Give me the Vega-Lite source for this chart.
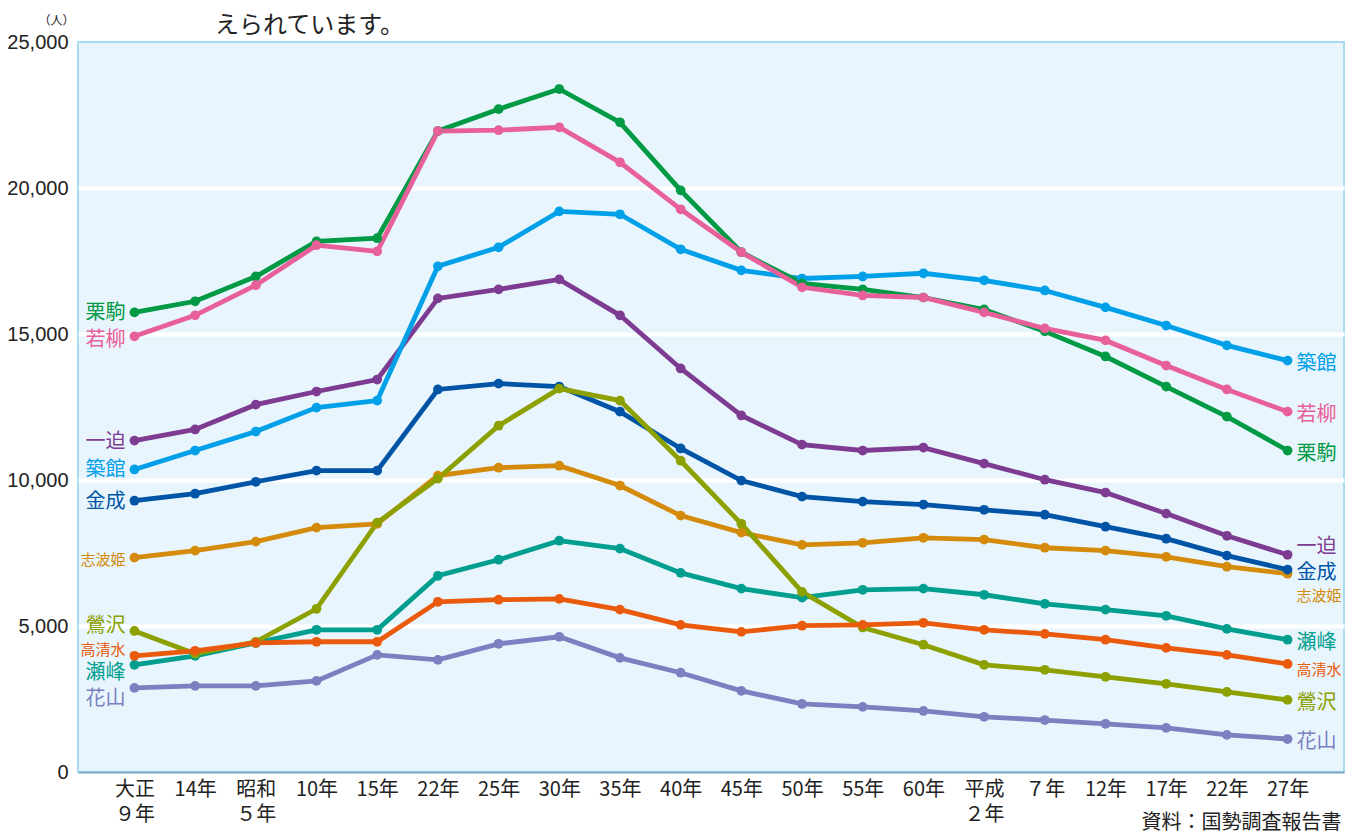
{
  "$schema": "https://vega.github.io/schema/vega-lite/v6.json",
  "width": 1266,
  "height": 730,
  "autosize": {"type": "none"},
  "padding": {"left": 78, "top": 42, "right": 1, "bottom": 65},
  "background": "white",
  "config": {
    "view": {"fill": "#E8F5FD", "stroke": "#A6DBF3", "strokeWidth": 2},
    "font": "Liberation Sans, Noto Sans CJK JP, sans-serif"
  },
  "title": {
    "text": "えられています。",
    "anchor": "start",
    "frame": "group",
    "dx": 137,
    "fontSize": 24,
    "fontWeight": "normal",
    "font": "Noto Sans CJK JP",
    "color": "#222222",
    "baseline": "middle",
    "offset": -36
  },
  "data": {
    "values": [
      {"年": "大正9年", "栗駒": 15740, "若柳": 14920, "築館": 10360, "一迫": 11350, "金成": 9290, "志波姫": 7340, "鶯沢": 4830, "高清水": 3980, "瀬峰": 3670, "花山": 2880},
      {"年": "大正14年", "栗駒": 16120, "若柳": 15640, "築館": 11010, "一迫": 11730, "金成": 9530, "志波姫": 7580, "鶯沢": 4050, "高清水": 4150, "瀬峰": 3980, "花山": 2950},
      {"年": "昭和5年", "栗駒": 16970, "若柳": 16670, "築館": 11660, "一迫": 12580, "金成": 9940, "志波姫": 7890, "鶯沢": 4460, "高清水": 4420, "瀬峰": 4420, "花山": 2950},
      {"年": "昭和10年", "栗駒": 18170, "若柳": 18040, "築館": 12480, "一迫": 13030, "金成": 10320, "志波姫": 8370, "鶯沢": 5590, "高清水": 4460, "瀬峰": 4870, "花山": 3120},
      {"年": "昭和15年", "栗駒": 18280, "若柳": 17830, "築館": 12720, "一迫": 13440, "金成": 10320, "志波姫": 8500, "鶯沢": 8540, "高清水": 4460, "瀬峰": 4870, "花山": 4010},
      {"年": "昭和22年", "栗駒": 21950, "若柳": 21950, "築館": 17320, "一迫": 16220, "金成": 13100, "志波姫": 10150, "鶯沢": 10050, "高清水": 5830, "瀬峰": 6720, "花山": 3840},
      {"年": "昭和25年", "栗駒": 22700, "若柳": 21980, "築館": 17970, "一迫": 16530, "金成": 13300, "志波姫": 10420, "鶯沢": 11860, "高清水": 5900, "瀬峰": 7270, "花山": 4390},
      {"年": "昭和30年", "栗駒": 23390, "若柳": 22080, "築館": 19200, "一迫": 16870, "金成": 13200, "志波姫": 10490, "鶯沢": 13130, "高清水": 5930, "瀬峰": 7920, "花山": 4630},
      {"年": "昭和35年", "栗駒": 22250, "若柳": 20880, "築館": 19100, "一迫": 15640, "金成": 12340, "志波姫": 9810, "鶯沢": 12720, "高清水": 5560, "瀬峰": 7650, "花山": 3910},
      {"年": "昭和40年", "栗駒": 19920, "若柳": 19270, "築館": 17900, "一迫": 13820, "金成": 11080, "志波姫": 8780, "鶯沢": 10660, "高清水": 5040, "瀬峰": 6820, "花山": 3400},
      {"年": "昭和45年", "栗駒": 17800, "若柳": 17800, "築館": 17180, "一迫": 12210, "金成": 9980, "志波姫": 8200, "鶯沢": 8500, "高清水": 4800, "瀬峰": 6280, "花山": 2780},
      {"年": "昭和50年", "栗駒": 16730, "若柳": 16600, "築館": 16900, "一迫": 11210, "金成": 9430, "志波姫": 7780, "鶯沢": 6170, "高清水": 5010, "瀬峰": 5970, "花山": 2330},
      {"年": "昭和55年", "栗駒": 16530, "若柳": 16320, "築館": 16970, "一迫": 11010, "金成": 9260, "志波姫": 7850, "鶯沢": 4950, "高清水": 5040, "瀬峰": 6240, "花山": 2230},
      {"年": "昭和60年", "栗駒": 16250, "若柳": 16250, "築館": 17080, "一迫": 11110, "金成": 9160, "志波姫": 8020, "鶯沢": 4360, "高清水": 5110, "瀬峰": 6280, "花山": 2090},
      {"年": "平成2年", "栗駒": 15840, "若柳": 15740, "築館": 16840, "一迫": 10560, "金成": 8980, "志波姫": 7960, "鶯沢": 3670, "高清水": 4870, "瀬峰": 6070, "花山": 1890},
      {"年": "平成7年", "栗駒": 15090, "若柳": 15190, "築館": 16490, "一迫": 10010, "金成": 8810, "志波姫": 7680, "鶯沢": 3500, "高清水": 4730, "瀬峰": 5760, "花山": 1780},
      {"年": "平成12年", "栗駒": 14230, "若柳": 14780, "築館": 15910, "一迫": 9570, "金成": 8400, "志波姫": 7580, "鶯沢": 3260, "高清水": 4530, "瀬峰": 5560, "花山": 1650},
      {"年": "平成17年", "栗駒": 13200, "若柳": 13920, "築館": 15290, "一迫": 8850, "金成": 7990, "志波姫": 7370, "鶯沢": 3020, "高清水": 4250, "瀬峰": 5350, "花山": 1510},
      {"年": "平成22年", "栗駒": 12170, "若柳": 13100, "築館": 14610, "一迫": 8090, "金成": 7410, "志波姫": 7030, "鶯沢": 2740, "高清水": 4010, "瀬峰": 4900, "花山": 1270},
      {"年": "平成27年", "栗駒": 11010, "若柳": 12340, "築館": 14090, "一迫": 7440, "金成": 6930, "志波姫": 6790, "鶯沢": 2470, "高清水": 3700, "瀬峰": 4530, "花山": 1130}
    ]
  },
  "transform": [
    {"fold": ["花山", "瀬峰", "志波姫", "金成", "一迫", "築館", "栗駒", "若柳", "鶯沢", "高清水"], "as": ["地区", "人口"]}
  ],
  "encoding": {
    "x": {
      "field": "年",
      "type": "ordinal",
      "sort": ["大正9年", "大正14年", "昭和5年", "昭和10年", "昭和15年", "昭和22年", "昭和25年", "昭和30年", "昭和35年", "昭和40年", "昭和45年", "昭和50年", "昭和55年", "昭和60年", "平成2年", "平成7年", "平成12年", "平成17年", "平成22年", "平成27年"],
      "scale": {"type": "point", "padding": 0.93},
      "axis": {
        "labelExpr": "datum.value == '大正9年' ? ['大正', '９年'] : datum.value == '昭和5年' ? ['昭和', '５年'] : datum.value == '平成2年' ? ['平成', '２年'] : datum.value == '平成7年' ? '７年' : substring(datum.value, 2)",
        "labelAngle": 0,
        "labelFont": "Noto Sans CJK JP",
        "labelFontSize": 20,
        "labelLineHeight": 25,
        "labelPadding": 7,
        "labelColor": "#222222",
        "labelOverlap": false,
        "ticks": false,
        "grid": false,
        "domainColor": "#7BA9C2",
        "domainWidth": 2,
        "title": "資料：国勢調査報告書",
        "titleFont": "Noto Sans CJK JP",
        "titleFontSize": 20,
        "titleFontWeight": "normal",
        "titleColor": "#222222",
        "titleAnchor": "end",
        "titleAlign": "right",
        "titleBaseline": "middle",
        "titleX": 1263,
        "titleY": 50
      }
    },
    "y": {
      "field": "人口",
      "type": "quantitative",
      "scale": {"domain": [0, 25000], "nice": false},
      "axis": {
        "values": [0, 5000, 10000, 15000, 20000, 25000],
        "format": ",d",
        "labelFont": "Liberation Sans",
        "labelFontSize": 20,
        "labelPadding": 10,
        "labelColor": "#222222",
        "ticks": false,
        "domain": false,
        "gridColor": "white",
        "gridWidth": 4,
        "gridOpacity": {"condition": {"test": "datum.value == 0 || datum.value == 25000", "value": 0}, "value": 1},
        "title": "（人）",
        "titleFont": "Noto Sans CJK JP",
        "titleFontSize": 12,
        "titleFontWeight": "normal",
        "titleColor": "#222222",
        "titleAngle": 0,
        "titleAlign": "center",
        "titleBaseline": "middle",
        "titleX": -22,
        "titleY": -22
      }
    },
    "color": {
      "field": "地区",
      "type": "nominal",
      "scale": {
        "domain": ["花山", "瀬峰", "志波姫", "金成", "一迫", "築館", "栗駒", "若柳", "鶯沢", "高清水"],
        "range": ["#7A80C0", "#009E8F", "#D48A0A", "#0054A6", "#7D3C92", "#00A0E9", "#009944", "#E8609A", "#8CA000", "#EA5A0C"]
      },
      "legend": null
    }
  },
  "layer": [
    {"mark": {"type": "line", "strokeWidth": 4.8, "point": {"filled": true, "size": 95, "opacity": 1}}},
    {
      "transform": [{"filter": {"field": "年", "equal": "大正9年"}}, {"filter": {"field": "地区", "oneOf": ["栗駒", "一迫", "築館", "金成"]}}],
      "mark": {"type": "text", "align": "right", "baseline": "middle", "dx": -9, "dy": 1, "fontSize": 20, "font": "Noto Sans CJK JP"},
      "encoding": {"text": {"field": "地区"}}
    },
    {
      "transform": [{"filter": {"field": "年", "equal": "大正9年"}}, {"filter": {"field": "地区", "equal": "若柳"}}],
      "mark": {"type": "text", "align": "right", "baseline": "middle", "dx": -9, "dy": 4, "fontSize": 20, "font": "Noto Sans CJK JP"},
      "encoding": {"text": {"field": "地区"}}
    },
    {
      "transform": [{"filter": {"field": "年", "equal": "大正9年"}}, {"filter": {"field": "地区", "equal": "志波姫"}}],
      "mark": {"type": "text", "align": "right", "baseline": "middle", "dx": -9, "dy": 2, "fontSize": 15, "font": "Noto Sans CJK JP"},
      "encoding": {"text": {"field": "地区"}}
    },
    {
      "transform": [{"filter": {"field": "年", "equal": "大正9年"}}, {"filter": {"field": "地区", "equal": "鶯沢"}}],
      "mark": {"type": "text", "align": "right", "baseline": "middle", "dx": -9, "dy": -5, "fontSize": 20, "font": "Noto Sans CJK JP"},
      "encoding": {"text": {"field": "地区"}}
    },
    {
      "transform": [{"filter": {"field": "年", "equal": "大正9年"}}, {"filter": {"field": "地区", "equal": "高清水"}}],
      "mark": {"type": "text", "align": "right", "baseline": "middle", "dx": -9, "dy": -6, "fontSize": 15, "font": "Noto Sans CJK JP"},
      "encoding": {"text": {"field": "地区"}}
    },
    {
      "transform": [{"filter": {"field": "年", "equal": "大正9年"}}, {"filter": {"field": "地区", "equal": "瀬峰"}}],
      "mark": {"type": "text", "align": "right", "baseline": "middle", "dx": -9, "dy": 8, "fontSize": 20, "font": "Noto Sans CJK JP"},
      "encoding": {"text": {"field": "地区"}}
    },
    {
      "transform": [{"filter": {"field": "年", "equal": "大正9年"}}, {"filter": {"field": "地区", "equal": "花山"}}],
      "mark": {"type": "text", "align": "right", "baseline": "middle", "dx": -9, "dy": 11, "fontSize": 20, "font": "Noto Sans CJK JP"},
      "encoding": {"text": {"field": "地区"}}
    },
    {
      "transform": [{"filter": {"field": "年", "equal": "平成27年"}}, {"filter": {"field": "地区", "oneOf": ["築館", "若柳", "栗駒", "金成", "瀬峰", "鶯沢", "花山"]}}],
      "mark": {"type": "text", "align": "left", "baseline": "middle", "dx": 9, "dy": 3, "fontSize": 20, "font": "Noto Sans CJK JP"},
      "encoding": {"text": {"field": "地区"}}
    },
    {
      "transform": [{"filter": {"field": "年", "equal": "平成27年"}}, {"filter": {"field": "地区", "equal": "一迫"}}],
      "mark": {"type": "text", "align": "left", "baseline": "middle", "dx": 9, "dy": -8, "fontSize": 20, "font": "Noto Sans CJK JP"},
      "encoding": {"text": {"field": "地区"}}
    },
    {
      "transform": [{"filter": {"field": "年", "equal": "平成27年"}}, {"filter": {"field": "地区", "equal": "志波姫"}}],
      "mark": {"type": "text", "align": "left", "baseline": "middle", "dx": 9, "dy": 22, "fontSize": 15, "font": "Noto Sans CJK JP"},
      "encoding": {"text": {"field": "地区"}}
    },
    {
      "transform": [{"filter": {"field": "年", "equal": "平成27年"}}, {"filter": {"field": "地区", "equal": "高清水"}}],
      "mark": {"type": "text", "align": "left", "baseline": "middle", "dx": 9, "dy": 6, "fontSize": 15, "font": "Noto Sans CJK JP"},
      "encoding": {"text": {"field": "地区"}}
    }
  ]
}
